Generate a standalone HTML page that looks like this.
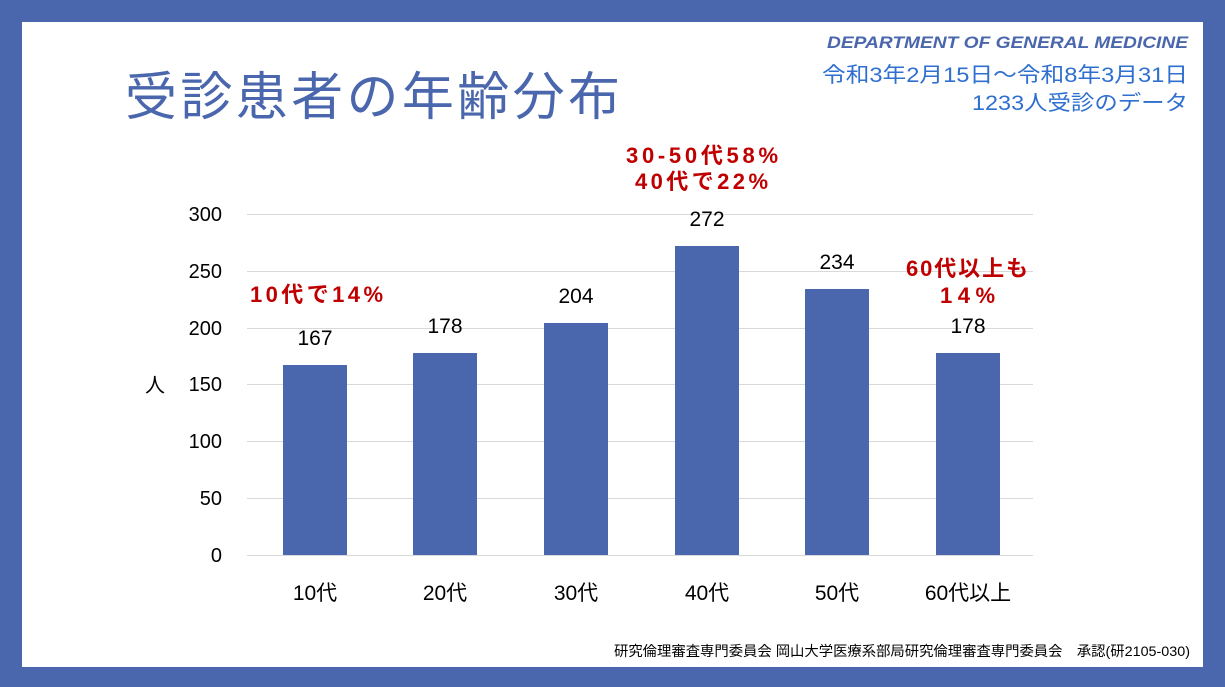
<!DOCTYPE html>
<html><head><meta charset="utf-8"><style>
body{margin:0;width:1225px;height:687px;background:#4a66ad;overflow:hidden}
svg{display:block}
text{font-family:"Liberation Sans","Noto Sans CJK JP",sans-serif}
</style></head><body>
<svg width="1225" height="687" xmlns="http://www.w3.org/2000/svg">
<rect x="0" y="0" width="1225" height="687" fill="#4a66ad"/>
<rect x="22" y="22" width="1181" height="645" fill="#ffffff"/>
<text x="125" y="115" font-size="52" fill="#4a66ad" textLength="495" lengthAdjust="spacing">受診患者の年齢分布</text>
<text x="827" y="48" font-size="17" font-weight="bold" font-style="italic" fill="#4a66ad" textLength="361" lengthAdjust="spacingAndGlyphs">DEPARTMENT OF GENERAL MEDICINE</text>
<text x="822" y="82" font-size="21" fill="#2e6fd0" textLength="366" lengthAdjust="spacingAndGlyphs">令和3年2月15日～令和8年3月31日</text>
<text x="972" y="110" font-size="21" fill="#2e6fd0" textLength="216" lengthAdjust="spacingAndGlyphs">1233人受診のデータ</text>
<g stroke="#d9d9d9" stroke-width="1">
<line x1="247" y1="214.5" x2="1033" y2="214.5"/>
<line x1="247" y1="271.5" x2="1033" y2="271.5"/>
<line x1="247" y1="328.5" x2="1033" y2="328.5"/>
<line x1="247" y1="384.5" x2="1033" y2="384.5"/>
<line x1="247" y1="441.5" x2="1033" y2="441.5"/>
<line x1="247" y1="498.5" x2="1033" y2="498.5"/>
<line x1="247" y1="555.5" x2="1033" y2="555.5"/>
</g>
<g font-size="20" fill="#000" text-anchor="end">
<text x="222" y="221">300</text><text x="222" y="278">250</text><text x="222" y="335">200</text>
<text x="222" y="391">150</text><text x="222" y="448">100</text><text x="222" y="505">50</text><text x="222" y="562">0</text>
</g>
<text x="145" y="392" font-size="20">人</text>
<g fill="#4a66ad">
<rect x="283" y="365" width="64" height="190"/>
<rect x="413" y="353" width="64" height="202"/>
<rect x="544" y="323" width="64" height="232"/>
<rect x="675" y="246" width="64" height="309"/>
<rect x="805" y="289" width="64" height="266"/>
<rect x="936" y="353" width="64" height="202"/>
</g>
<g font-size="21" fill="#000" text-anchor="middle">
<text x="315" y="345">167</text><text x="445" y="333">178</text><text x="576" y="303">204</text>
<text x="707" y="226">272</text><text x="837" y="269">234</text><text x="968" y="333">178</text>
<text x="315" y="600">10代</text><text x="445" y="600">20代</text><text x="576" y="600">30代</text>
<text x="707" y="600">40代</text><text x="837" y="600">50代</text><text x="968" y="600">60代以上</text>
</g>
<g font-size="22" font-weight="bold" fill="#c00000">
<text x="250" y="302" textLength="133" lengthAdjust="spacing">10代で14%</text>
<text x="626" y="163" textLength="152" lengthAdjust="spacing">30-50代58%</text>
<text x="635" y="189" textLength="133" lengthAdjust="spacing">40代で22%</text>
<text x="906" y="276" textLength="122" lengthAdjust="spacing">60代以上も</text>
<text x="940" y="303" textLength="55" lengthAdjust="spacing">14%</text>
</g>
<text x="614" y="656" font-size="14" fill="#000" textLength="576" lengthAdjust="spacingAndGlyphs">研究倫理審査専門委員会 岡山大学医療系部局研究倫理審査専門委員会　承認(研2105-030)</text>
</svg>
</body></html>
